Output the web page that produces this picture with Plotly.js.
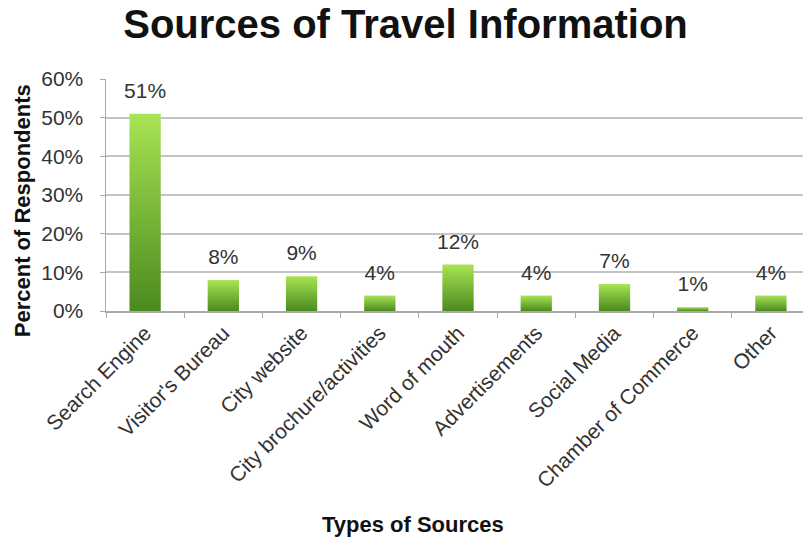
<!DOCTYPE html>
<html>
<head>
<meta charset="utf-8">
<script src="https://cdn.plot.ly/plotly-3.0.1.min.js"></script>
<style>html,body{margin:0;padding:0;background:#fff;}#chart{width:803px;height:544px;}</style>
</head>
<body>
<div id="chart"></div>
<script>
const categories = ["Search Engine", "Visitor's Bureau", "City website", "City brochure/activities", "Word of mouth", "Advertisements", "Social Media", "Chamber of Commerce", "Other"];
const shares = [0.51, 0.08, 0.09, 0.04, 0.12, 0.04, 0.07, 0.01, 0.04];
const chartTitle = "Sources of Travel Information";
const xTitle = "Types of Sources";
const yTitle = "Percent of Respondents";

const FONT = "Liberation Sans, Arial, sans-serif";
const trace = {
  type: "bar",
  x: categories,
  y: shares,
  width: 0.4,
  marker: {color: "#7cc23a", line: {width: 0}},
  texttemplate: "%{y:.0%}",
  textposition: "outside",
  constraintext: "none",
  textfont: {family: FONT, size: 21, color: "#333"},
  cliponaxis: false,
  hoverinfo: "none"
};
const layout = {
  width: 803, height: 544,
  margin: {l: 106, r: 0, t: 79, b: 233},
  paper_bgcolor: "#fff", plot_bgcolor: "#fff",
  showlegend: false,
  title: {text: "<b>" + chartTitle + "</b>", font: {family: FONT, size: 40, color: "#111"}, x: 0.505, xanchor: "center", y: 0.955, yanchor: "middle", yref: "container"},
  xaxis: {
    type: "category", range: [-0.5, 8.41],
    tickangle: -45, tickfont: {family: FONT, size: 21, color: "#333"},
    ticks: "outside", tickson: "boundaries", ticklen: 5, tickcolor: "#aaa",
    showline: true, linecolor: "#aaa", linewidth: 1.5, showgrid: false, fixedrange: true
  },
  yaxis: {
    range: [0, 0.6], dtick: 0.1, tickformat: ".0%",
    tickfont: {family: FONT, size: 21, color: "#333"},
    showgrid: true, gridcolor: "#c4c4c4", gridwidth: 2,
    showline: true, linecolor: "#aaa", linewidth: 1.5,
    ticks: "outside", ticklen: 5, tickcolor: "#aaa", ticklabelstandoff: 12, zeroline: false, fixedrange: true
  },
  annotations: [
    {text: "<b>" + xTitle + "</b>", xref: "paper", yref: "paper", x: 0.44, y: -0.922, xanchor: "center", yanchor: "middle", showarrow: false, font: {family: FONT, size: 22, color: "#111"}},
    {text: "<b>" + yTitle + "</b>", xref: "paper", yref: "paper", x: -0.1205, y: 0.43, xanchor: "center", yanchor: "middle", textangle: -90, showarrow: false, font: {family: FONT, size: 22, color: "#111"}}
  ]
};

function applyGradient(gd) {
  const svg = gd.querySelector("svg.main-svg");
  if (!svg) return;
  let defs = svg.querySelector("defs");
  if (!defs) { defs = document.createElementNS("http://www.w3.org/2000/svg", "defs"); svg.insertBefore(defs, svg.firstChild); }
  if (!svg.querySelector("#barGrad")) {
    const g = document.createElementNS("http://www.w3.org/2000/svg", "linearGradient");
    g.setAttribute("id", "barGrad");
    g.setAttribute("x1", "0"); g.setAttribute("y1", "0"); g.setAttribute("x2", "0"); g.setAttribute("y2", "1");
    [["0", "#a8e453"], ["1", "#4b8a1f"]].forEach(([o, c]) => {
      const s = document.createElementNS("http://www.w3.org/2000/svg", "stop");
      s.setAttribute("offset", o); s.setAttribute("stop-color", c);
      g.appendChild(s);
    });
    defs.appendChild(g);
  }
  gd.querySelectorAll(".bars .point path").forEach(p => { p.style.fill = "url(#barGrad)"; });
  gd.querySelectorAll(".bars .point text.bartext").forEach(t => {
    if (t.parentNode.getAttribute("data-shift")) return;
    const wrap = document.createElementNS("http://www.w3.org/2000/svg", "g");
    wrap.setAttribute("transform", "translate(0,-9)");
    wrap.setAttribute("data-shift", "1");
    t.parentNode.insertBefore(wrap, t);
    wrap.appendChild(t);
  });
}

const gd = document.getElementById("chart");
Plotly.newPlot(gd, [trace], layout, {displayModeBar: false, staticPlot: true}).then(() => {
  applyGradient(gd);
});
</script>
</body>
</html>
